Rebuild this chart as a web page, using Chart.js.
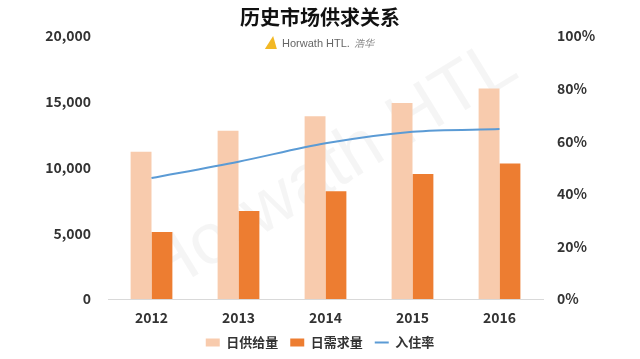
<!DOCTYPE html>
<html><head><meta charset="utf-8">
<script src="https://cdn.jsdelivr.net/npm/chart.js@4/dist/chart.umd.min.js"></script>
<style>
html,body{margin:0;padding:0;background:#fff;}
#wrap{position:relative;width:640px;height:359px;}
#title{position:absolute;left:0;top:4px;width:640px;text-align:center;font:bold 20px "Noto Sans CJK SC",sans-serif;color:#111;line-height:26px;}
#logo{position:absolute;left:0;top:35px;width:640px;text-align:center;font:11px "Liberation Sans",sans-serif;color:#666;line-height:16px;}
#logo .ic{display:inline-block;width:0;height:0;border-left:6px solid transparent;border-right:6px solid transparent;border-bottom:13px solid #F2B825;vertical-align:-2px;margin-right:4px;transform:skewX(-10deg);}
#logo .cn{font:italic 10px "Noto Sans CJK SC",serif;color:#888;margin-left:4px;}
canvas{position:absolute;left:0;top:0;}
</style></head>
<body><div id="wrap"><canvas id="c" width="640" height="359"></canvas>
<div id="title">历史市场供求关系</div>
<div id="logo"><span class="ic"></span>Horwath HTL.<span class="cn">浩华</span></div></div>
<script>
const years = ['2012','2013','2014','2015','2016'];
const supply = [11200, 12800, 13900, 14900, 16000];
const demand = [5100, 6700, 8200, 9500, 10300];
const occupancy = [0.46, 0.522, 0.592, 0.636, 0.646];
const seriesNames = ['日供给量','日需求量','入住率'];

const FONT = '"Noto Sans CJK SC", sans-serif';
const watermark = {
  id:'wm',
  beforeDatasetsDraw(chart){
    const ctx = chart.ctx;
    ctx.save();
    ctx.translate(330,170);
    ctx.rotate(-0.55);
    ctx.font = '72px "Liberation Sans", sans-serif';
    ctx.fillStyle = 'rgba(0,0,0,0.04)';
    ctx.textAlign='center';ctx.textBaseline='middle';
    ctx.fillText('Horwath HTL',0,0);
    ctx.restore();
  }
};
new Chart(document.getElementById('c'), {
  data:{
    labels: years,
    datasets:[
      {type:'line', label:seriesNames[2], data:occupancy, yAxisID:'y1', borderColor:'#5B9BD5', backgroundColor:'#5B9BD5', borderWidth:2, pointRadius:0, tension:0.3, pointStyle:'line', order:0},
      {type:'bar', label:seriesNames[0], data:supply, yAxisID:'y', backgroundColor:'#F8CBAD', pointStyle:'rect', categoryPercentage:0.48, barPercentage:1, order:1},
      {type:'bar', label:seriesNames[1], data:demand, yAxisID:'y', backgroundColor:'#ED7D31', pointStyle:'rect', categoryPercentage:0.48, barPercentage:1, order:2}
    ]
  },
  options:{
    responsive:false, animation:false,
    layout:{padding:{top:36,bottom:0,left:0,right:0}},
    plugins:{
      title:{display:false},
      tooltip:{enabled:false},
      legend:{position:'bottom',
        labels:{usePointStyle:true, pointStyleWidth:14, boxWidth:14, boxHeight:8, padding:12, color:'#333',
          font:{family:FONT, size:13, weight:'bold'},
          sort:(a,b)=>{const o={'日供给量':0,'日需求量':1,'入住率':2};return o[a.text]-o[b.text];}
        }}
    },
    scales:{
      x:{grid:{display:false, drawTicks:false}, border:{color:'#D9D9D9', width:1},
        afterFit(s){s.height=25;},
        ticks:{color:'#333', padding:10, font:{family:FONT,size:14,weight:'bold'}}},
      y:{position:'left', min:0, max:20000, grid:{display:false,drawTicks:false}, border:{display:false},
        afterFit(s){s.width=108;},
        ticks:{stepSize:5000, padding:17, color:'#333', font:{family:FONT,size:14,weight:'bold'},
          callback:v=>v.toLocaleString('en-US')}},
      y1:{position:'right', min:0, max:1, grid:{display:false,drawTicks:false}, border:{display:false},
        afterFit(s){s.width=97;},
        ticks:{stepSize:0.2, padding:14, color:'#333', font:{family:FONT,size:14,weight:'bold'},
          callback:v=>Math.round(v*100)+'%'}}
    }
  },
  plugins:[watermark]
});
</script></body></html>
